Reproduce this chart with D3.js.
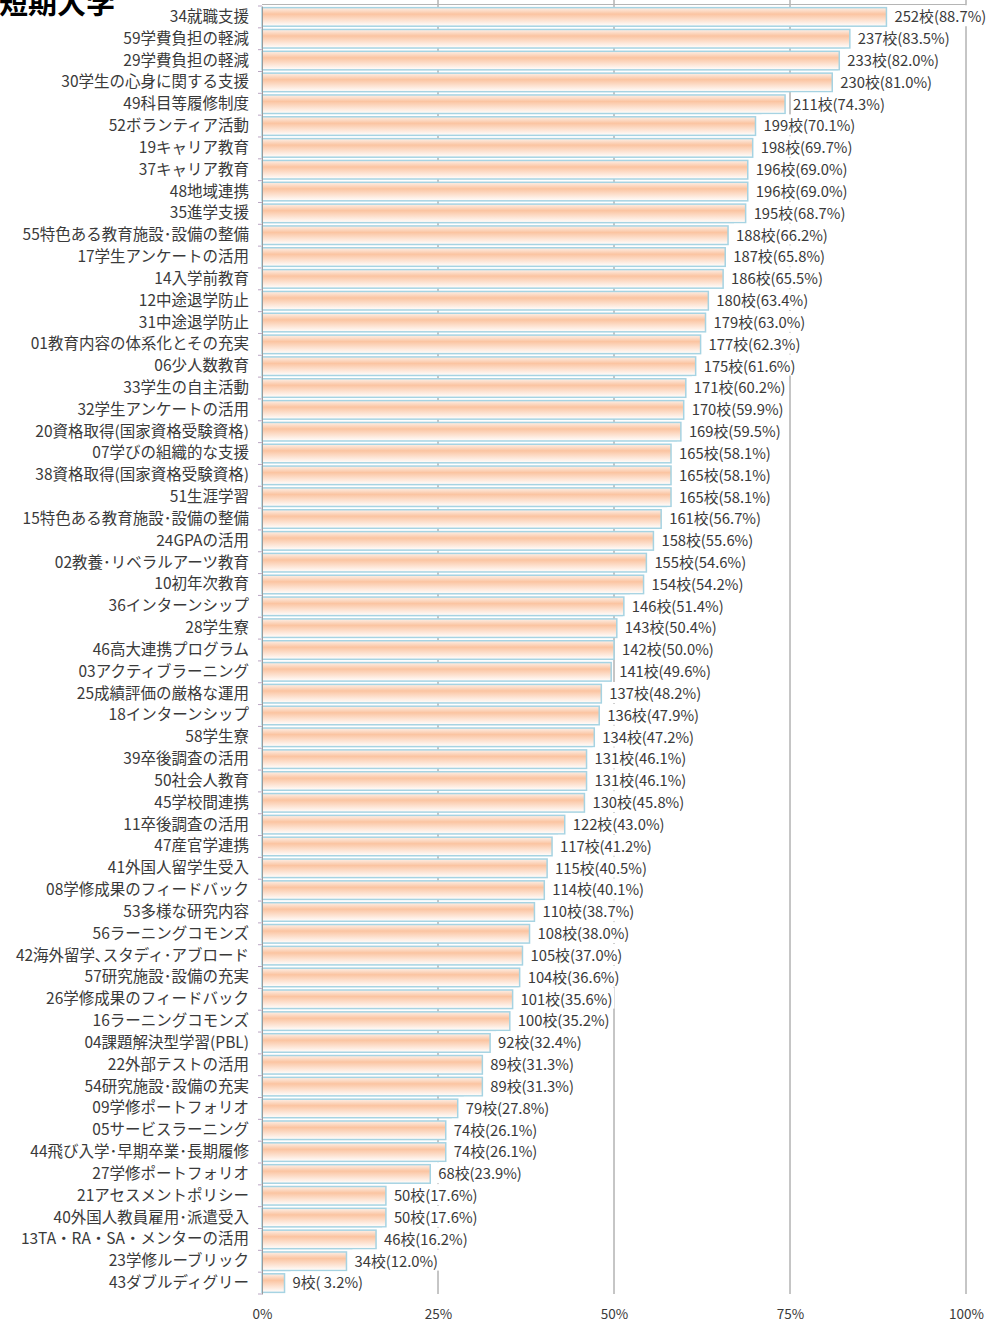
<!DOCTYPE html>
<html>
<head>
<meta charset="utf-8">
<script src="https://cdn.jsdelivr.net/npm/d3@7"></script>
<style>
  html, body { margin: 0; padding: 0; background: #fff; }
  svg { display: block; }
  text { font-family: "Noto Sans CJK JP", "Noto Sans", sans-serif; }
</style>
</head>
<body>
<svg id="chart" width="997" height="1322"></svg>
<script>
// 取組項目（上から順）
const categories = [
  "34就職支援", "59学費負担の軽減", "29学費負担の軽減", "30学生の心身に関する支援",
  "49科目等履修制度", "52ボランティア活動", "19キャリア教育", "37キャリア教育",
  "48地域連携", "35進学支援", "55特色ある教育施設･設備の整備", "17学生アンケートの活用",
  "14入学前教育", "12中途退学防止", "31中途退学防止", "01教育内容の体系化とその充実",
  "06少人数教育", "33学生の自主活動", "32学生アンケートの活用", "20資格取得(国家資格受験資格)",
  "07学びの組織的な支援", "38資格取得(国家資格受験資格)", "51生涯学習", "15特色ある教育施設･設備の整備",
  "24GPAの活用", "02教養･リベラルアーツ教育", "10初年次教育", "36インターンシップ",
  "28学生寮", "46高大連携プログラム", "03アクティブラーニング", "25成績評価の厳格な運用",
  "18インターンシップ", "58学生寮", "39卒後調査の活用", "50社会人教育",
  "45学校間連携", "11卒後調査の活用", "47産官学連携", "41外国人留学生受入",
  "08学修成果のフィードバック", "53多様な研究内容", "56ラーニングコモンズ", "42海外留学､スタディ･アブロード",
  "57研究施設･設備の充実", "26学修成果のフィードバック", "16ラーニングコモンズ", "04課題解決型学習(PBL)",
  "22外部テストの活用", "54研究施設･設備の充実", "09学修ポートフォリオ", "05サービスラーニング",
  "44飛び入学･早期卒業･長期履修", "27学修ポートフォリオ", "21アセスメントポリシー", "40外国人教員雇用･派遣受入",
  "13TA・RA・SA・メンターの活用", "23学修ルーブリック", "43ダブルディグリー"
];

// 実施校数
const counts = [
  252, 237, 233, 230, 211, 199, 198, 196, 196, 195,
  188, 187, 186, 180, 179, 177, 175, 171, 170, 169,
  165, 165, 165, 161, 158, 155, 154, 146, 143, 142,
  141, 137, 136, 134, 131, 131, 130, 122, 117, 115,
  114, 110, 108, 105, 104, 101, 100, 92, 89, 89,
  79, 74, 74, 68, 50, 50, 46, 34, 9
];

// 実施率（%）
const percents = [
  88.7, 83.5, 82.0, 81.0, 74.3, 70.1, 69.7, 69.0, 69.0, 68.7,
  66.2, 65.8, 65.5, 63.4, 63.0, 62.3, 61.6, 60.2, 59.9, 59.5,
  58.1, 58.1, 58.1, 56.7, 55.6, 54.6, 54.2, 51.4, 50.4, 50.0,
  49.6, 48.2, 47.9, 47.2, 46.1, 46.1, 45.8, 43.0, 41.2, 40.5,
  40.1, 38.7, 38.0, 37.0, 36.6, 35.6, 35.2, 32.4, 31.3, 31.3,
  27.8, 26.1, 26.1, 23.9, 17.6, 17.6, 16.2, 12.0, 3.2
];

// 目盛
const tickValues = [0, 25, 50, 75, 100];
const tickLabels = ["0%", "25%", "50%", "75%", "100%"];

const title = "短期大学";

const rows = categories.map((c, i) => ({ name: c, count: counts[i], pct: percents[i] }));

const svg = d3.select("#chart");
const plot = { left: 262, right: 966, top: 6, bottom: 1294 };

const x = d3.scaleLinear().domain([0, 100]).range([plot.left, plot.right]);
const y = d3.scaleBand().domain(categories).range([plot.top, plot.bottom]).paddingInner(0.15).paddingOuter(0.075);

// 棒の塗り（縦方向グラデーション）
const defs = svg.append("defs");
const grad = defs.append("linearGradient")
  .attr("id", "barFill").attr("x1", 0).attr("y1", 0).attr("x2", 0).attr("y2", 1);
grad.append("stop").attr("offset", "0%").attr("stop-color", "#fdf0e8");
grad.append("stop").attr("offset", "35%").attr("stop-color", "#fbc4a1");
grad.append("stop").attr("offset", "100%").attr("stop-color", "#ffffff");

// 縦の目盛線
svg.append("g").selectAll("line")
  .data(tickValues.filter(v => v > 0))
  .join("line")
  .attr("x1", d => x(d)).attr("x2", d => x(d))
  .attr("y1", 0).attr("y2", plot.bottom)
  .attr("stroke", "#8c8c8c").attr("stroke-width", 1);

// 上端の線
svg.append("line")
  .attr("x1", plot.left).attr("x2", plot.right)
  .attr("y1", 4.5).attr("y2", 4.5)
  .attr("stroke", "#b5b5b5").attr("stroke-width", 1);

// 棒
svg.append("g").selectAll("rect")
  .data(rows)
  .join("rect")
  .attr("x", x(0))
  .attr("y", d => y(d.name))
  .attr("width", d => x(d.pct) - x(0))
  .attr("height", y.bandwidth())
  .attr("fill", "url(#barFill)")
  .attr("stroke", "#a6d3e2")
  .attr("stroke-width", 1.5);

// カテゴリ軸
const yAxis = d3.axisLeft(y).tickSize(0).tickPadding(13);
const gy = svg.append("g").attr("transform", `translate(${plot.left},0)`).call(yAxis);
gy.select(".domain").attr("stroke", "#9a9a9a");
gy.selectAll("text")
  .attr("font-size", "15.5px")
  .attr("fill", "#3a3a3a")
  .attr("font-family", "'Noto Sans CJK JP', sans-serif");

// 区切りの小目盛
const step = y.step();
svg.append("g").selectAll("line")
  .data(d3.range(categories.length + 1))
  .join("line")
  .attr("x1", plot.left - 4).attr("x2", plot.left)
  .attr("y1", i => y(categories[0]) - step * y.paddingInner() / 2 + i * step)
  .attr("y2", i => y(categories[0]) - step * y.paddingInner() / 2 + i * step)
  .attr("stroke", "#b9a6c2").attr("stroke-width", 1);

// 値ラベル
const lab = svg.append("g").selectAll("g")
  .data(rows)
  .join("g")
  .attr("transform", d => `translate(${x(d.pct) + 8},${y(d.name) + y.bandwidth() / 2})`);
lab.append("text")
  .attr("dy", "0.36em")
  .attr("font-size", "14.8px")
  .attr("fill", "#3a3a3a")
  .text(d => `${d.count}校(${d.pct < 10 ? " " : ""}${d.pct.toFixed(1)}%)`);
lab.each(function () {
  const g = d3.select(this);
  const bb = g.select("text").node().getBBox();
  g.insert("rect", "text")
    .attr("x", bb.x - 2).attr("y", bb.y)
    .attr("width", bb.width + 4).attr("height", bb.height)
    .attr("fill", "#fff");
});

// 横軸の目盛ラベル
const xAxis = d3.axisBottom(x).tickValues(tickValues).tickSize(0).tickPadding(0)
  .tickFormat((d, i) => tickLabels[i]);
const gx = svg.append("g").attr("transform", `translate(0,1309)`).call(xAxis);
gx.select(".domain").remove();
gx.selectAll("text")
  .attr("font-size", "13.5px")
  .attr("fill", "#3a3a3a")
  .attr("font-family", "'Noto Sans CJK JP', sans-serif");

// 見出し
svg.append("text")
  .attr("x", -1).attr("y", 14)
  .attr("font-size", "29px")
  .attr("font-weight", "bold")
  .attr("fill", "#000")
  .text(title);
</script>
</body>
</html>
